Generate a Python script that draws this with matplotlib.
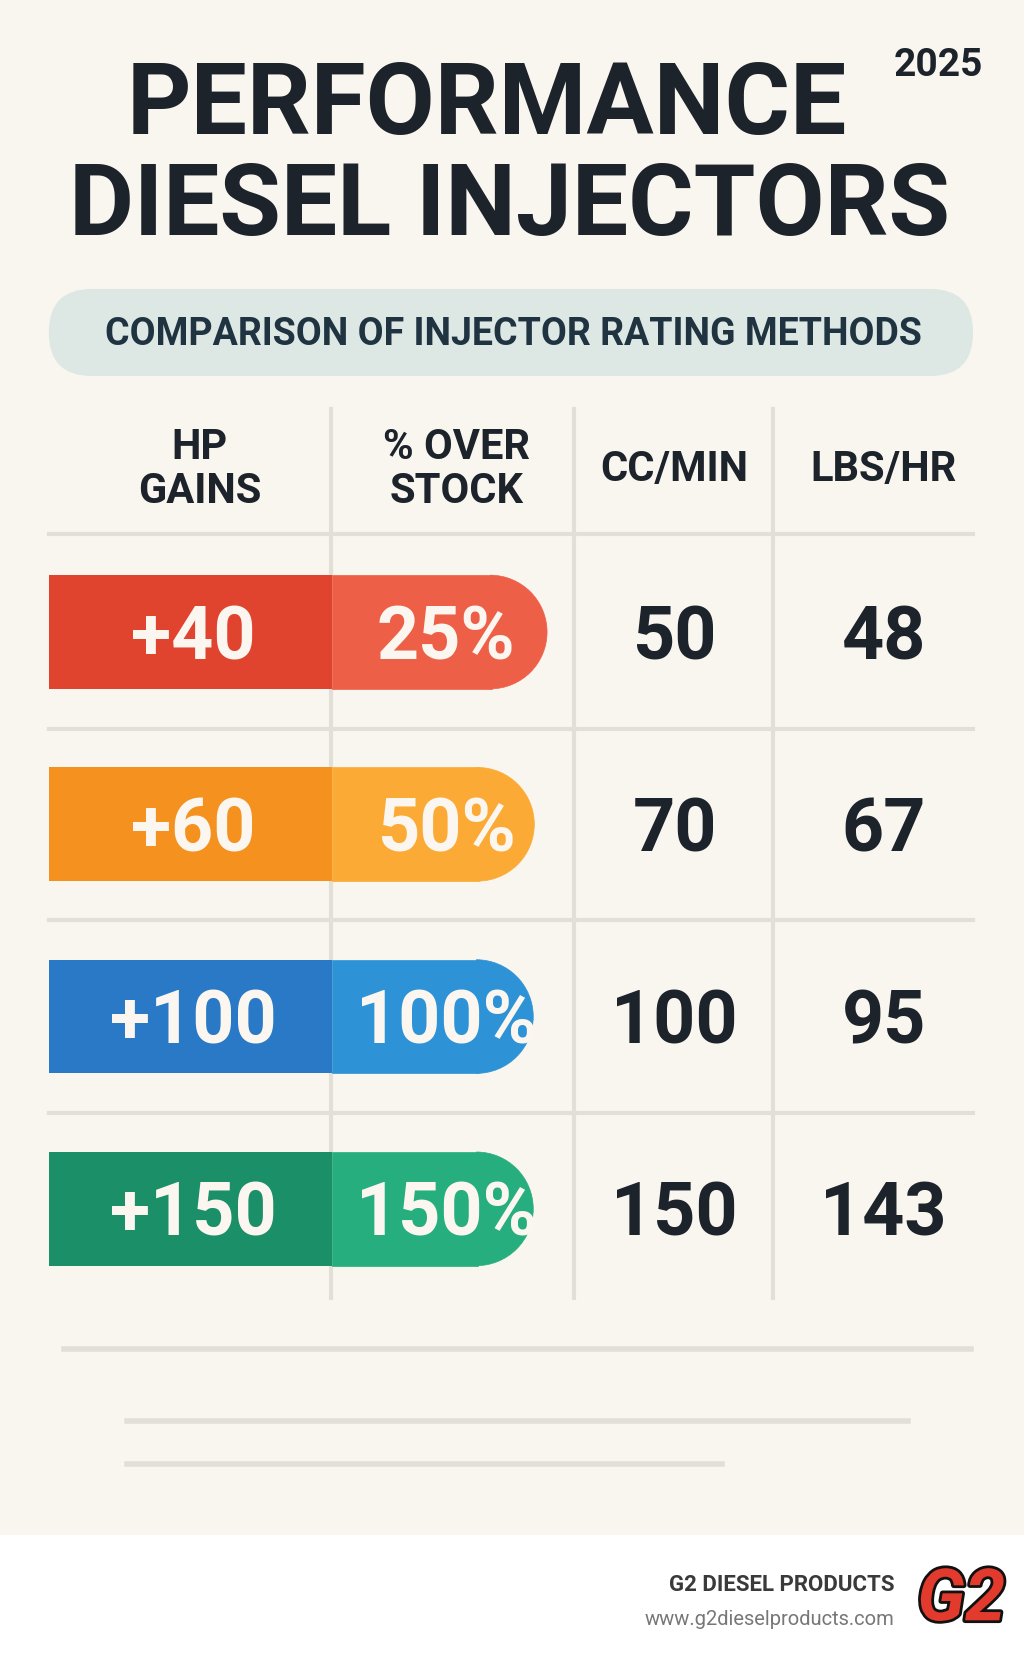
import matplotlib.pyplot as plt
from matplotlib.patches import Rectangle, Wedge, FancyBboxPatch
import matplotlib.patheffects as pe

# data
hp_gains = [40, 60, 100, 150]
pct_over_stock = [25, 50, 100, 150]
cc_min = [50, 70, 100, 150]
lbs_hr = [48, 67, 95, 143]
headers = ["HP\nGAINS", "% OVER\nSTOCK", "CC/MIN", "LBS/HR"]

# styling
dark_cols = ["#e0442e", "#f5921f", "#2a79c6", "#1a8f68"]
light_cols = ["#ee5f47", "#fbab35", "#2e93d6", "#26ae7e"]
bg = "#f9f5ef"
ink = "#1c232a"
grid = "#e2dfd9"
S = 1024 / 964
FONT = "Roboto"

fig = plt.figure(figsize=(10.24, 16.66), dpi=100)
fig.patch.set_facecolor(bg)
ax = fig.add_axes([0, 0, 1, 1])
ax.set_xlim(0, 1024)
ax.set_ylim(1666, 0)
ax.axis("off")

# title
ax.text(458 * S, 100 * S, "PERFORMANCE", ha="center", va="center", fontsize=72,
        fontweight="bold", family=FONT, color=ink)
ax.text(480 * S, 195 * S, "DIESEL INJECTORS", ha="center", va="center", fontsize=72,
        fontweight="bold", family=FONT, color=ink)
ax.text(883 * S, 62 * S, "2025", ha="center", va="center", fontsize=28,
        fontweight="bold", family=FONT, color=ink)

# subtitle pill
ax.add_patch(FancyBboxPatch((46 * S, 272 * S), 870 * S, 82 * S,
                            boxstyle="round,pad=0,rounding_size=43", fc="#dde8e5", ec="none"))
ax.text(483 * S, 315 * S, "COMPARISON OF INJECTOR RATING METHODS", ha="center", va="center",
        fontsize=27, fontweight="bold", family=FONT, color="#1f3340")

# grid lines
for x in [312, 540, 728]:
    ax.plot([x * S, x * S], [385 * S, 1222 * S], color=grid, lw=3, zorder=1)
for y in [503, 686, 866, 1048]:
    ax.plot([46 * S, 916 * S], [y * S, y * S], color=grid, lw=3, zorder=1)
ax.plot([60 * S, 914 * S], [1270 * S, 1270 * S], color=grid, lw=4)
ax.plot([120 * S, 855 * S], [1338 * S, 1338 * S], color=grid, lw=4)
ax.plot([120 * S, 680 * S], [1378 * S, 1378 * S], color=grid, lw=4)

# headers
col_x = [188, 430, 635, 832]
for cx, h in zip(col_x, headers):
    ax.text(cx * S, 442 * S, h, ha="center", va="center", fontsize=30, fontweight="bold",
            family=FONT, color=ink, linespacing=1.1)

# rows
row_y = [595, 776, 957, 1138]
bar_ends = [515, 503, 502, 502]
bh = 107 * S
left, split = 46 * S, 313 * S
for i, y in enumerate(row_y):
    yc = y * S
    r = bh / 2
    end = bar_ends[i] * S
    ax.add_patch(Rectangle((left, yc - r), split - left, bh, fc=dark_cols[i], ec="none", zorder=2))
    ax.add_patch(Rectangle((split, yc - r), end - r - split + 2, bh, fc=light_cols[i],
                           ec=light_cols[i], lw=0.5, zorder=2))
    ax.add_patch(Wedge((end - r, yc), r, -90, 90, fc=light_cols[i], ec=light_cols[i],
                       lw=0.5, zorder=2))
    kw = dict(ha="center", va="center", fontsize=53, fontweight="bold", family=FONT, zorder=3)
    ty = yc + 7
    ax.text(182 * S, ty, f"+{hp_gains[i]}", color="#fbf7f0", **kw)
    ax.text(420 * S, ty, f"{pct_over_stock[i]}%", color="#fbf7f0", **kw)
    ax.text(635 * S, ty, f"{cc_min[i]}", color=ink, **kw)
    ax.text(832 * S, ty, f"{lbs_hr[i]}", color=ink, **kw)

# footer
ax.add_patch(Rectangle((0, 1445 * S), 1024, 1666 - 1445 * S, fc="white", ec="none"))
ax.text(842 * S, 1492 * S, "G2 DIESEL PRODUCTS", ha="right", va="center", fontsize=16,
        fontweight="bold", family=FONT, color="#3a3a3a")
ax.text(842 * S, 1525 * S, "www.g2dieselproducts.com", ha="right", va="center", fontsize=14.5,
        family=FONT, color="#777777")
ax.text(905 * S, 1507 * S, "G2", ha="center", va="center", fontsize=52, fontweight="bold",
        style="italic", family=FONT, color="#e23a2c",
        path_effects=[pe.withStroke(linewidth=4, foreground="#111111")])

fig.savefig("out.png", dpi=100, facecolor=bg)
